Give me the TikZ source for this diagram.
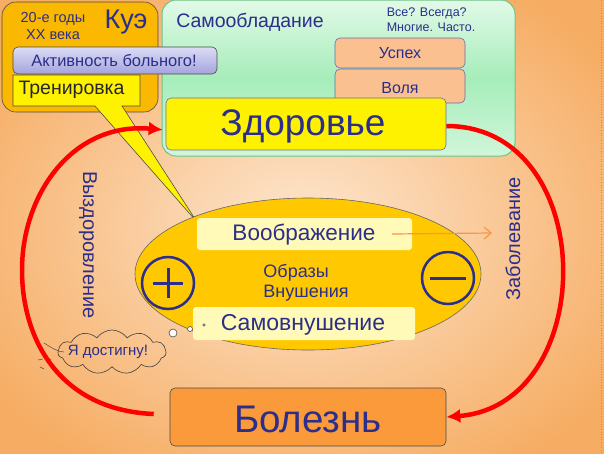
\documentclass[tikz,border=0pt]{standalone}
\usepackage{fontspec}
\setmainfont{Liberation Sans}
\usetikzlibrary{shapes.geometric,shapes.symbols,arrows.meta}
\definecolor{navy}{HTML}{2B2E8A}
\definecolor{bgin}{HTML}{FDE6CF}
\definecolor{bgout}{HTML}{F6AC62}
\definecolor{kuefill}{HTML}{FAB800}
\definecolor{grn1}{HTML}{E2FAE8}
\definecolor{grn2}{HTML}{A6EDBA}
\definecolor{grnb}{HTML}{6CC488}
\definecolor{peach}{HTML}{FAC08F}
\definecolor{gold}{HTML}{FFC800}
\definecolor{ltyel}{HTML}{FFFAB8}
\definecolor{lav1}{HTML}{DCDCF6}
\definecolor{lav2}{HTML}{A4A4DC}
\definecolor{bolfill}{HTML}{FA9A3A}
\definecolor{oarrow}{HTML}{F79646}
\tikzset{
  fs/.style={font=\fontsize{#1}{#1}\selectfont},
  box/.style={draw=black!70, line width=0.6pt, rounded corners=5pt, inner sep=0pt},
  nt/.style={text=navy},
  redarc/.style={draw=red, line width=4.5pt, -{Latex[length=14pt,width=14pt]}},
  pm/.style={circle, draw=navy, line width=2.5pt, minimum size=52pt, inner sep=0pt},
}
\begin{document}
\begin{tikzpicture}[x=1pt,y=-1pt]
\useasboundingbox (0,0) rectangle (604,453);
% background
\shade[inner color=bgin, outer color=bgout] (-80,-60) rectangle (684,513);
\draw[black!40, line width=0.6pt, dotted] (601,0) -- (601,453);

% green box
\node[box, draw=grnb, line width=1pt, rounded corners=14pt, top color=grn1, bottom color=grn1!70!grn2, middle color=grn2,
      minimum width=353pt, minimum height=156pt] (green) at (338.5,78) {};
\node[nt, fs=19.5] (samo) at (250,22) {Самообладание};
\node[nt, fs=12.5, align=left] (vse) at (431,20) {Все? Всегда?\\[2.5pt]Многие. Часто.};
\node[box, draw=navy!70, fill=peach, minimum width=130pt, minimum height=30pt] (uspeh) at (400,53) {};
\node[nt, fs=16] at (uspeh) {Успех};
\node[box, draw=navy!70, fill=peach, minimum width=130pt, minimum height=34pt] (volya) at (400,86) {};
\node[nt, fs=16] at (400,88) {Воля};
\node[box, draw=navy!70, fill=yellow, minimum width=280pt, minimum height=52pt] (zdor) at (306,124) {};
\node[nt, fs=37] at (303,126) {Здоровье};

% Kue box
\node[box, rounded corners=14pt, fill=kuefill, minimum width=156pt, minimum height=110pt] (kue) at (80,57) {};
\node[nt, fs=14.5, align=center] (years) at (53,26) {20-е годы\\[2pt]XX века};
\node[nt, fs=27] (kuename) at (126,22) {Куэ};

% callout Тренировка
\draw[black!70, line width=0.6pt, fill=yellow] (13,75) -- (140,75) -- (140,106) -- (122,106) -- (197,222) -- (95,106) -- (13,106) -- cycle;
\node[text=black!85, fs=19.5, anchor=west] (tren) at (15,90) {Тренировка};
\node[box, top color=lav1, bottom color=lav2, minimum width=204pt, minimum height=27pt] (aktiv) at (115,60.5) {};
\node[nt, fs=16.5] at (114,61) {Активность больного!};

% ellipse
\node[ellipse, draw=black!60, line width=0.6pt, fill=gold, minimum width=346pt, minimum height=152pt, inner sep=0pt] (ell) at (308,274) {};
\node[rounded corners=3pt, fill=ltyel, minimum width=215pt, minimum height=32pt, inner sep=0pt] (voobr) at (304.5,234) {};
\node[nt, fs=22.5] at (304,235) {Воображение};
\coordinate (oend) at (492,233);
\draw[oarrow, line width=1.2pt, -{Straight Barb[length=7pt,width=12pt]}] ([xshift=-20pt]voobr.east) -- (oend);
\node[nt, fs=18, align=left] (obr) at (306,283) {Образы\\[2pt]Внушения};
\node[rounded corners=3pt, fill=ltyel, minimum width=222pt, minimum height=33pt, inner sep=0pt] (samov) at (304,323.5) {};
\node[nt, fs=23] at (303,325) {Самовнушение};
\node[pm] (plus) at (168,283) {};
\draw[navy, line width=3pt] ([xshift=-15pt]plus.center) -- ([xshift=15pt]plus.center)
  ([yshift=-15pt]plus.center) -- ([yshift=15pt]plus.center);
\node[pm] (minus) at (448,278) {};
\draw[navy, line width=3pt] ([xshift=-18pt]minus.center) -- ([xshift=18pt]minus.center);

% thought bubbles
\node[circle, draw=black!70, fill=white, line width=0.6pt, minimum size=8pt, inner sep=0pt] (b1) at (173,333) {};
\node[circle, draw=black!70, fill=white, line width=0.6pt, minimum size=5pt, inner sep=0pt] (b2) at (190,329) {};
\node[circle, draw=black!70, fill=white, line width=0.5pt, minimum size=2.5pt, inner sep=0pt] (b3) at (204,325) {};
\node[cloud, cloud puffs=11, cloud puff arc=110, aspect=2.6, draw=black!75, line width=0.6pt, minimum width=108pt, minimum height=44pt, inner sep=0pt] (cloud) at (112,352) {};
\draw[black!70, line width=0.5pt] (44,343) .. controls (52,348) and (58,352) .. (64,352)
  (38,360) -- (43,359) (40,367) -- (44,369) (48,358) -- (51,360);

% Болезнь
\node[box, fill=bolfill, minimum width=276pt, minimum height=58pt] (bol) at (308,417) {};
\node[nt, fs=38.5] at (308,419) {Болезнь};

% red arcs
\coordinate (lmid) at (22,270);
\draw[redarc, shorten >=3pt] ([xshift=-16pt,yshift=3pt]bol.west) .. controls (60,410) and (22,340) .. (lmid)
  .. controls (22,195) and (72,122) .. ([yshift=-6pt]zdor.west);
\draw[redarc] ([yshift=-2pt]zdor.east) .. controls (600,126) and (600,405) .. (bol.east);

% labels
\node[nt, fs=20, rotate=-90] (vyzd) at (88,245) {Выздоровление};
\node[nt, fs=20, rotate=90] (zabol) at (513,239) {Заболевание};
\node[nt, fs=15] (dost) at (108,352) {Я достигну!};
\end{tikzpicture}
\end{document}
